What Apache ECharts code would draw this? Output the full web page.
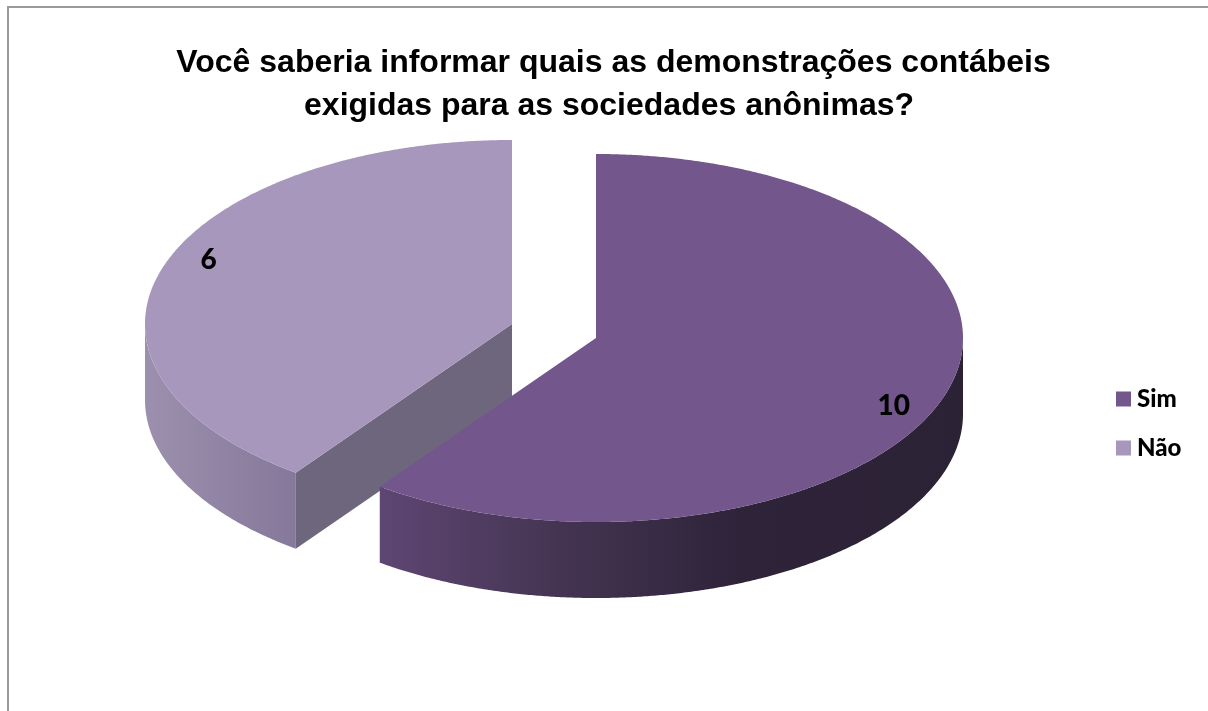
<!DOCTYPE html>
<html>
<head>
<meta charset="utf-8">
<style>html,body{margin:0;padding:0;background:#fff}#chart{width:1208px;height:711px}</style>
<script src="https://cdn.jsdelivr.net/npm/echarts@6/dist/echarts.min.js"></script>
</head>
<body>
<div id="chart"></div>
<script>
// Survey answers
const categories = ['Sim', 'Não'];
const answers = [10, 6];
const chartTitle = 'Você saberia informar quais as demonstrações contábeis\nexigidas para as sociedades anônimas?\u00a0';

// Colours of the slice tops, the cut faces and the outer rims
const topColors = ['#72568c', '#a797bc'];
const cutColor = '#6e667c';
const rimStops = [
  [[0, '#5e4672'], [0.31, '#443452'], [0.62, '#2e2339'], [1, '#2c2235']],
  [[0, '#9c90ae'], [1, '#85789a']]
];

// View of the tilted pie
const view = {
  rx: 367, ry: 184, depth: 76,
  centers: [[596, 338], [512, 324]],
  labelRadius: 0.89,
  labelOffsets: [[-4, 5], [-1.5, -1]]
};

const total = answers.reduce((a, b) => a + b, 0);
const rad = d => d * Math.PI / 180;

// Oblique view foreshortening of the angle, clockwise from 12 o'clock
const viewAngle = d => d - 8.9 * Math.sin(rad(2 * d));

function rimPoint(c, deg, drop) {
  const a = rad(viewAngle(deg));
  return [c[0] + view.rx * Math.sin(a), c[1] - view.ry * Math.cos(a) + drop];
}

function arc(c, from, to, drop) {
  const pts = [];
  const n = Math.max(2, Math.ceil(Math.abs(to - from) / 0.5));
  for (let i = 0; i <= n; i++) pts.push(rimPoint(c, from + (to - from) * i / n, drop));
  return pts;
}

// Draws one slice: cut face, outer rim, top and value label
function sliceRenderer(index) {
  return function (params, api) {
    const value = api.value(0);
    const before = answers.slice(0, index).reduce((a, b) => a + b, 0);
    const start = before / total * 360;
    const end = start + value / total * 360;
    const c = view.centers[index];
    const children = [];

    // Only the part of the rim that faces the viewer is visible
    const rimFrom = Math.max(start, 90);
    const rimTo = Math.min(end, 270);
    if (rimTo > rimFrom) {
      const upper = arc(c, rimFrom, rimTo, 0);
      const lower = arc(c, rimTo, rimFrom, view.depth);
      const xs = upper.map(p => p[0]);
      const x0 = Math.min.apply(null, xs);
      const x1 = Math.max.apply(null, xs);
      children.push({
        type: 'polygon',
        shape: { points: upper.concat(lower) },
        style: {
          fill: new echarts.graphic.LinearGradient(x0, 0, x1, 0,
            rimStops[index].map(s => ({ offset: s[0], color: s[1] })), true)
        }
      });
    }

    // The cut face starting the slice's sweep is visible on the left-hand slice
    if (start > 180 && start < 270) {
      const p = rimPoint(c, start, 0);
      children.push({
        type: 'polygon',
        shape: { points: [c, p, [p[0], p[1] + view.depth], [c[0], c[1] + view.depth]] },
        style: { fill: cutColor }
      });
    }

    children.push({
      type: 'polygon',
      shape: { points: [c].concat(arc(c, start, end, 0)) },
      style: { fill: topColors[index] }
    });

    const mid = rad((start + end) / 2);
    const offset = view.labelOffsets[index];
    children.push({
      type: 'text',
      style: {
        text: String(value),
        x: c[0] + view.labelRadius * view.rx * Math.sin(mid) + offset[0],
        y: c[1] - view.labelRadius * view.ry * Math.cos(mid) + offset[1],
        align: 'center',
        verticalAlign: 'middle',
        fill: '#000',
        font: '900 28px Lato, sans-serif'
      }
    });

    return { type: 'group', children: children };
  };
}

const chart = echarts.init(document.getElementById('chart'), null, { renderer: 'canvas' });

chart.setOption({
  animation: false,
  backgroundColor: '#fff',
  color: topColors,
  title: {
    text: chartTitle,
    left: 608.5,
    top: 37,
    textAlign: 'center',
    textStyle: {
      fontFamily: '"Liberation Sans", Arial, sans-serif',
      fontWeight: 'bold',
      fontSize: 32,
      lineHeight: 43,
      color: '#000'
    }
  },
  legend: {
    orient: 'vertical',
    left: 1116,
    top: 387,
    padding: 0,
    itemWidth: 15,
    itemHeight: 15,
    itemGap: 25,
    icon: 'rect',
    selectedMode: false,
    data: categories,
    textStyle: {
      fontFamily: 'Lato, sans-serif',
      fontWeight: 900,
      fontSize: 24,
      lineHeight: 19,
      color: '#000',
      padding: [0, 0, 0, 1]
    }
  },
  graphic: [{
    type: 'rect',
    z: -1,
    silent: true,
    shape: { x: 8, y: 7, width: 1400, height: 900 },
    style: { fill: 'none', stroke: '#9a9a9a', lineWidth: 2 }
  }],
  series: categories.map((name, i) => ({
    type: 'custom',
    name: name,
    coordinateSystem: 'none',
    silent: true,
    z: i === 0 ? 3 : 2,
    renderItem: sliceRenderer(i),
    data: [[answers[i]]],
    itemStyle: { color: topColors[i] }
  }))
});
</script>
</body>
</html>
